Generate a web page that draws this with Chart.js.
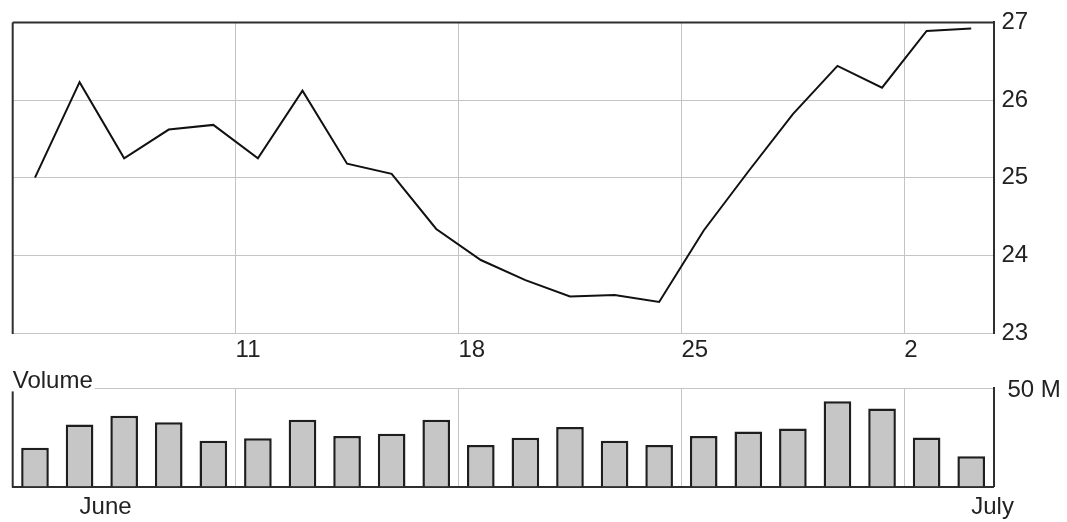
<!DOCTYPE html>
<html>
<head>
<meta charset="utf-8">
<script src="https://cdn.jsdelivr.net/npm/chart.js@4.4.1/dist/chart.umd.min.js"></script>
<style>
  html, body { margin: 0; padding: 0; background: #fff; }
  #wrap { position: relative; width: 1067px; height: 522px; }
  #priceBox { position: absolute; left: 0; top: 0; width: 1067px; height: 360px; }
  #volBox { position: absolute; left: 0; top: 360px; width: 1067px; height: 162px; }
</style>
</head>
<body>
<div id="wrap">
  <div id="priceBox"><canvas id="priceChart"></canvas></div>
  <div id="volBox"><canvas id="volChart"></canvas></div>
</div>
<script>
/* DATA */
const days = ["Jun 4", "Jun 5", "Jun 6", "Jun 7", "Jun 8",
              "Jun 11", "Jun 12", "Jun 13", "Jun 14", "Jun 15",
              "Jun 18", "Jun 19", "Jun 20", "Jun 21", "Jun 22",
              "Jun 25", "Jun 26", "Jun 27", "Jun 28", "Jun 29",
              "Jul 2", "Jul 3"];
const closes = [25.00, 26.23, 25.25, 25.62, 25.68,
                25.25, 26.12, 25.18, 25.05, 24.34,
                23.94, 23.68, 23.47, 23.49, 23.40,
                24.32, 25.08, 25.82, 26.44, 26.16,
                26.89, 26.92];
const volumes = [19.8, 31.6, 36.0, 32.8, 23.3,
                 24.6, 34.0, 25.8, 26.9, 34.0,
                 21.1, 24.8, 30.3, 23.3, 21.1,
                 25.8, 28.0, 29.5, 43.5, 39.8,
                 25.0, 15.4]; // millions
const weekTickIndex = [5, 10, 15, 20];
const weekLabels = ["11", "18", "25", "2"];
const monthTickIndex = [1, 21];
const monthLabels = ["June", "July"];
const priceTicks = [23, 24, 25, 26, 27];
const volumeMax = 50;
const volumeLabel = "50 M";
const volumeTitle = "Volume";

/* STYLE */
const INK = "#222";
const GRID = "#c4c4c4";
const FRAME = "#2e2e2e";
Chart.defaults.font = { family: "'Liberation Sans', Arial, sans-serif", size: 24 };
Chart.defaults.color = INK;

/* frame lines + panel title */
const frame = {
  id: "frame",
  afterDraw(c, args, o) {
    const { ctx, chartArea: a } = c;
    ctx.save();
    ctx.strokeStyle = FRAME;
    ctx.lineWidth = 2;
    ctx.beginPath();
    if (o.top) { ctx.moveTo(a.left, a.top); ctx.lineTo(a.right, a.top); }
    ctx.moveTo(a.left, a.top + (o.leftGap || 0));
    ctx.lineTo(a.left, a.bottom + 1);
    ctx.stroke();
    if (o.title) {
      ctx.font = "24px 'Liberation Sans', Arial, sans-serif";
      const tw = ctx.measureText(o.title).width;
      ctx.fillStyle = "#fff";
      ctx.fillRect(a.left - 2, a.top - 22, tw + 4, 23);
      ctx.fillStyle = INK;
      ctx.textBaseline = "alphabetic";
      ctx.fillText(o.title, a.left, a.top);
    }
    ctx.restore();
  }
};

const xLin = { type: "linear", min: -0.5, max: days.length - 0.5, offset: false };

/* PRICE */
new Chart(priceChart, {
  type: "line",
  data: {
    datasets: [{
      data: closes.map((v, i) => ({ x: i, y: v })),
      borderColor: "#111",
      borderWidth: 2,
      pointRadius: 0,
      tension: 0
    }]
  },
  options: {
    responsive: true, maintainAspectRatio: false, animation: false,
    layout: { padding: { left: 12.7, top: 20.5, right: 0, bottom: 0 } },
    plugins: { legend: { display: false }, tooltip: { enabled: false }, frame: { top: true } },
    scales: {
      x: {
        ...xLin,
        afterBuildTicks: s => { s.ticks = weekTickIndex.map(i => ({ value: i - 0.5 })); },
        afterFit: s => { s.height = 27; },
        grid: { color: GRID, drawTicks: false, offset: false },
        border: { display: false },
        ticks: { autoSkip: false, align: "start", padding: 3, labelOffset: 0, maxRotation: 0,
                 callback: (v, i) => weekLabels[i] }
      },
      y: {
        position: "right", min: 23, max: 27,
        afterBuildTicks: s => { s.ticks = priceTicks.map(v => ({ value: v })); },
        afterFit: s => { s.width = 73.5; },
        grid: { color: GRID, drawTicks: false },
        border: { display: true, color: FRAME, width: 2 },
        ticks: { padding: 8, callback: v => v }
      }
    }
  },
  plugins: [frame]
});

/* VOLUME */
new Chart(volChart, {
  type: "bar",
  data: {
    datasets: [{
      data: volumes.map((v, i) => ({ x: i, y: v })),
      backgroundColor: "#c6c6c6",
      borderColor: "#1e1e1e",
      borderWidth: 2.5,
      borderSkipped: "bottom",
      barPercentage: 0.62,
      categoryPercentage: 1
    }]
  },
  options: {
    responsive: true, maintainAspectRatio: false, animation: false,
    layout: { padding: { left: 12.7, top: 24, right: 0, bottom: 0 } },
    plugins: { legend: { display: false }, tooltip: { enabled: false },
               frame: { top: false, leftGap: 3, title: volumeTitle } },
    scales: {
      x: {
        ...xLin,
        afterBuildTicks: s => {
          s.ticks = weekTickIndex.map(i => ({ value: i - 0.5 }))
            .concat(monthTickIndex.map(i => ({ value: i })));
        },
        afterFit: s => { s.height = 35.5; },
        grid: { offset: false, drawTicks: false,
                color: c => c.index < weekTickIndex.length ? GRID : "rgba(0,0,0,0)" },
        border: { display: true, color: FRAME, width: 2 },
        ticks: { autoSkip: false, align: "start", padding: 6, maxRotation: 0,
                 callback: (v, i) => i < weekTickIndex.length ? "" : monthLabels[i - weekTickIndex.length] }
      },
      y: {
        position: "right", min: 0, max: volumeMax,
        afterBuildTicks: s => { s.ticks = [{ value: volumeMax }]; },
        afterFit: s => { s.width = 73.5; },
        grid: { color: GRID, drawTicks: false },
        border: { display: true, color: FRAME, width: 2 },
        ticks: { padding: 14, labelOffset: 2, callback: () => volumeLabel }
      }
    }
  },
  plugins: [frame]
});
</script>
</body>
</html>
